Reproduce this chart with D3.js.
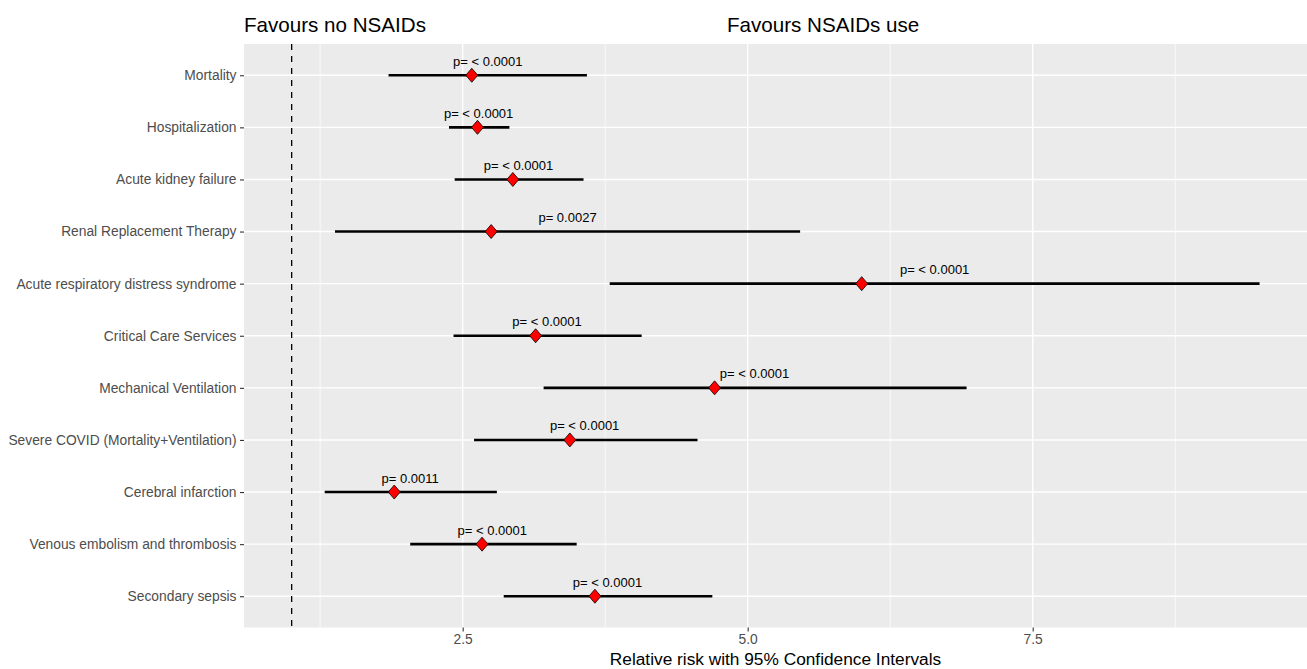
<!DOCTYPE html>
<html>
<head>
<meta charset="utf-8">
<script src="https://cdn.jsdelivr.net/npm/d3@7"></script>
<style>
  html, body { margin: 0; padding: 0; background: #ffffff; }
  svg { display: block; font-family: "Liberation Sans", Arial, sans-serif; }
</style>
</head>
<body>
<svg id="chart" width="1307" height="669"></svg>
<script>
// Forest plot: relative risk with 95% CI, NSAIDs vs no NSAIDs

const outcomes = [
  "Mortality",
  "Hospitalization",
  "Acute kidney failure",
  "Renal Replacement Therapy",
  "Acute respiratory distress syndrome",
  "Critical Care Services",
  "Mechanical Ventilation",
  "Severe COVID (Mortality+Ventilation)",
  "Cerebral infarction",
  "Venous embolism and thrombosis",
  "Secondary sepsis"
];
const relativeRisk = [2.58, 2.63, 2.94, 2.75, 6.00, 3.14, 4.71, 3.44, 1.90, 2.67, 3.66];
const ciLower      = [1.85, 2.38, 2.43, 1.38, 3.79, 2.42, 3.21, 2.60, 1.29, 2.04, 2.86];
const ciUpper      = [3.59, 2.91, 3.56, 5.46, 9.49, 4.07, 6.92, 4.56, 2.80, 3.50, 4.69];
const pValues = [
  "p= < 0.0001", "p= < 0.0001", "p= < 0.0001", "p= 0.0027", "p= < 0.0001",
  "p= < 0.0001", "p= < 0.0001", "p= < 0.0001", "p= 0.0011", "p= < 0.0001", "p= < 0.0001"
];
// where each p-value label sits, in relative-risk units (repelled labels)
const pLabelAt = [2.72, 2.64, 2.99, 3.42, 6.64, 3.24, 5.06, 3.57, 2.04, 2.76, 3.77];

const majorTicks = [2.5, 5.0, 7.5];
const minorTicks = [1.25, 3.75, 6.25, 8.75];
const nullEffect = 1;
const xDomain = [0.582, 9.906];

const xTitle = "Relative risk with 95% Confidence Intervals";
const leftTitle = "Favours no NSAIDs";
const rightTitle = "Favours NSAIDs use";

// layout
const panel = { left: 244, right: 1307, top: 44, bottom: 627.5 };
const axisGrey = "#4d4d4d";
const tickGrey = "#333333";

const svg = d3.select("#chart");

const rows = outcomes.map((name, i) => ({
  name,
  rr: relativeRisk[i],
  lo: ciLower[i],
  hi: ciUpper[i],
  p: pValues[i],
  labelAt: pLabelAt[i]
}));

const x = d3.scaleLinear()
  .domain(xDomain)
  .range([panel.left, panel.right]);

const y = d3.scalePoint()
  .domain(outcomes)
  .range([panel.top, panel.bottom])
  .padding(0.6);

// Panel background
svg.append("rect")
  .attr("x", panel.left)
  .attr("y", panel.top)
  .attr("width", panel.right - panel.left)
  .attr("height", panel.bottom - panel.top)
  .attr("fill", "#ebebeb");

const grid = svg.append("g").attr("class", "grid");

// Minor vertical grid
grid.selectAll("line.minor")
  .data(minorTicks)
  .enter().append("line")
  .attr("class", "minor")
  .attr("x1", (d) => x(d)).attr("x2", (d) => x(d))
  .attr("y1", panel.top).attr("y2", panel.bottom)
  .attr("stroke", "#ffffff")
  .attr("stroke-width", 0.7);

// Major vertical grid
grid.selectAll("line.majorx")
  .data(majorTicks)
  .enter().append("line")
  .attr("class", "majorx")
  .attr("x1", (d) => x(d)).attr("x2", (d) => x(d))
  .attr("y1", panel.top).attr("y2", panel.bottom)
  .attr("stroke", "#ffffff")
  .attr("stroke-width", 1.4);

// Horizontal grid, one per outcome
grid.selectAll("line.majory")
  .data(outcomes)
  .enter().append("line")
  .attr("class", "majory")
  .attr("x1", panel.left).attr("x2", panel.right)
  .attr("y1", (d) => y(d)).attr("y2", (d) => y(d))
  .attr("stroke", "#ffffff")
  .attr("stroke-width", 1.4);

// Line of no effect
svg.append("line")
  .attr("x1", x(nullEffect)).attr("x2", x(nullEffect))
  .attr("y1", panel.top).attr("y2", panel.bottom)
  .attr("stroke", "#000000")
  .attr("stroke-width", 1.3)
  .attr("stroke-dasharray", "6,6");

// Confidence intervals
svg.append("g")
  .selectAll("line")
  .data(rows)
  .enter().append("line")
  .attr("x1", (d) => x(d.lo))
  .attr("x2", (d) => x(d.hi))
  .attr("y1", (d) => y(d.name))
  .attr("y2", (d) => y(d.name))
  .attr("stroke", "#000000")
  .attr("stroke-width", 2.6);

// Point estimates as diamonds
svg.append("g")
  .selectAll("path")
  .data(rows)
  .enter().append("path")
  .attr("d", (d) => {
    const cx = x(d.rr), cy = y(d.name);
    return `M${cx},${cy - 7}L${cx + 6},${cy}L${cx},${cy + 7}L${cx - 6},${cy}Z`;
  })
  .attr("fill", "#ff0000")
  .attr("stroke", "#000000")
  .attr("stroke-width", 0.8);

// p-value labels
svg.append("g")
  .selectAll("text")
  .data(rows)
  .enter().append("text")
  .attr("x", (d) => x(d.labelAt))
  .attr("y", (d) => y(d.name) - 14)
  .attr("dy", "0.35em")
  .attr("text-anchor", "middle")
  .attr("font-size", 13)
  .attr("fill", "#000000")
  .text((d) => d.p);

// Y axis
const yAxis = svg.append("g")
  .attr("transform", `translate(${panel.left},0)`)
  .call(d3.axisLeft(y).tickSize(4).tickPadding(3.5));
yAxis.select(".domain").remove();
yAxis.selectAll(".tick line").attr("stroke", tickGrey).attr("stroke-width", 1.1);
yAxis.selectAll(".tick text")
  .attr("fill", axisGrey)
  .attr("font-size", 13.8)
  .attr("font-family", "Liberation Sans, Arial, sans-serif");

// X axis
const xAxis = svg.append("g")
  .attr("transform", `translate(0,${panel.bottom})`)
  .call(d3.axisBottom(x).tickValues(majorTicks).tickFormat(d3.format(".1f")).tickSize(4).tickPadding(3));
xAxis.select(".domain").remove();
xAxis.selectAll(".tick line").attr("stroke", tickGrey).attr("stroke-width", 1.1);
xAxis.selectAll(".tick text")
  .attr("fill", axisGrey)
  .attr("font-size", 13.8)
  .attr("font-family", "Liberation Sans, Arial, sans-serif");

// Axis title
svg.append("text")
  .attr("x", (panel.left + panel.right) / 2)
  .attr("y", 665)
  .attr("text-anchor", "middle")
  .attr("font-size", 17.3)
  .attr("fill", "#000000")
  .text(xTitle);

// Direction headings
svg.append("text")
  .attr("x", panel.left)
  .attr("y", 32)
  .attr("font-size", 20.6)
  .attr("fill", "#000000")
  .text(leftTitle);

svg.append("text")
  .attr("x", 727)
  .attr("y", 32)
  .attr("font-size", 20.6)
  .attr("fill", "#000000")
  .text(rightTitle);
</script>
</body>
</html>
